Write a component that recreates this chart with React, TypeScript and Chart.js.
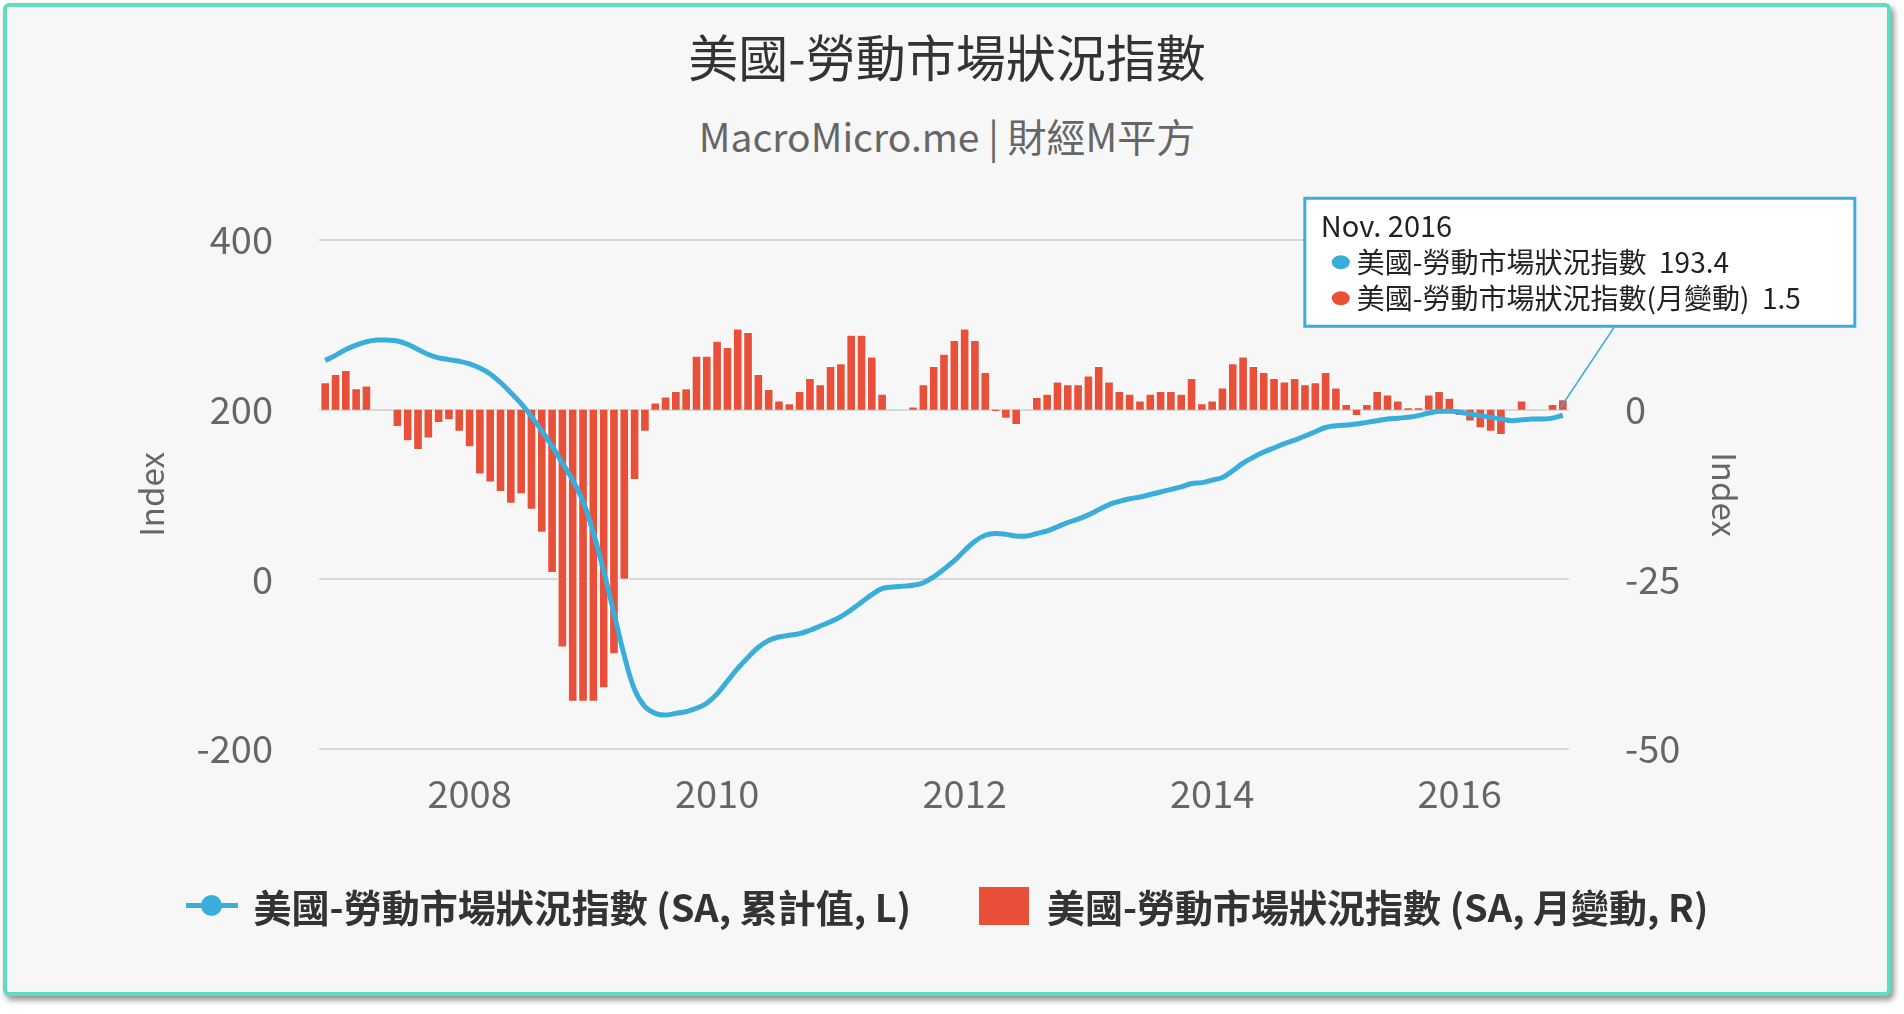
import React, { useEffect, useRef } from "react";
import { Chart, registerables } from "chart.js";
Chart.register(...registerables);

const startYear = 2006;
const startMonth = 10; // Nov (0-based)
const tickYears = [2008, 2010, 2012, 2014, 2016];
const leftTicks = [-200, 0, 200, 400];
const rightTicks = [-50, -25, 0];

const cumValues = [
  258, 264, 271, 276, 280, 282, 282, 281, 277, 271, 265, 261,
  259, 257, 254, 249, 242, 232, 220, 207, 192, 175, 157, 137,
  117, 92, 55, 10, -40, -90, -130, -150, -158, -160, -158, -156,
  -152, -146, -135, -120, -105, -92, -80, -72, -68, -66, -64, -60,
  -55, -50, -44, -36, -27, -18, -11, -9, -8, -7, -4, 3,
  12, 22, 34, 45, 52, 54, 53, 51, 51, 54, 57, 62,
  67, 71, 76, 82, 88, 92, 95, 97, 100, 103, 106, 109,
  113, 114, 117, 120, 128, 137, 144, 150, 155, 160, 164, 169,
  174, 179, 181, 182, 183, 185, 187, 189, 190, 191, 193, 196,
  198, 198, 197, 195, 193, 191, 189, 187, 188, 189, 189, 190,
  193.4,
];

const monthly = [
  4.0, 5.2, 5.8, 3.1, 3.5, 0, 0,
  -2.5, -4.6, -5.9, -4.2, -1.9, -1.5, -3.2, -5.5, -9.5, -10.7, -12.1, -13.8, -12.4,
  -14.7, -18.1, -24, -35, -43, -43, -43, -41, -36, -25, -10.3, -3.2,
  1.0, 1.9, 2.7, 3.1, 7.9, 7.9, 10.1, 9.2, 11.9, 11.4, 5.2, 3.0, 1.3, 0.9,
  2.7, 4.6, 3.7, 6.4, 6.8, 11.0, 11.0, 7.8, 2.3, 0, 0,
  0.4, 3.7, 6.4, 8.2, 10.2, 11.9, 10.2, 5.5, -0.3, -1.3, -2.2, 0,
  1.8, 2.3, 4.1, 3.7, 3.7, 5.0, 6.4, 4.1, 2.7, 2.3, 1.3, 2.3, 2.7, 2.7, 2.3, 4.6,
  0.9, 1.3, 3.2, 6.8, 7.8, 6.4, 5.5, 4.6, 4.1, 4.6, 3.7, 4.0,
  5.5, 3.2, 0.8, -0.9, 0.8, 2.7, 2.2, 1.3, 0.3, 0.3, 2.2, 2.7, 1.7, -0.9, -1.7,
  -2.7, -3.2, -3.7, 0, 1.3, 0, 0, 0.8, 1.5,
];

const lineName = "美國-勞動市場狀況指數 (SA, 累計值, L)";
const barName = "美國-勞動市場狀況指數 (SA, 月變動, R)";
const tipTitle = "Nov. 2016";
const tipLine = "美國-勞動市場狀況指數";
const tipBar = "美國-勞動市場狀況指數(月變動)";

const FONT = "'Noto Sans CJK TC', 'Noto Sans', sans-serif";
const BLUE = "#3aaedb";
const RED = "#e8503a";

function idxOfYear(y: number) {
  return (y - startYear) * 12 - startMonth;
}

export default function App() {
  const ref = useRef<HTMLCanvasElement>(null);
  useEffect(() => {
    const n = cumValues.length;
    const lineData = cumValues.map((v, i) => ({ x: i, y: v }));
    const barData = monthly.map((v, i) => ({ x: i, y: v }));
    const tipPlugin = {
      id: "tip",
      afterDraw(chart: any) {
        const ctx = chart.ctx;
        const xs = chart.scales.x, ys = chart.scales.y;
        const px = xs.getPixelForValue(n - 1);
        const py = ys.getPixelForValue(cumValues[n - 1]);
        const bx = px - 258, by = py - 217, bw = 550, bh = 128;
        ctx.save();
        ctx.strokeStyle = BLUE;
        ctx.lineWidth = 1.5;
        ctx.beginPath();
        ctx.moveTo(px - 2, py - 8);
        ctx.lineTo(px + 52, by + bh);
        ctx.stroke();
        ctx.fillStyle = "#ffffff";
        ctx.fillRect(bx, by, bw, bh);
        ctx.lineWidth = 3;
        ctx.strokeRect(bx, by, bw, bh);
        ctx.fillStyle = "#222";
        ctx.font = `29px ${FONT}`;
        ctx.textBaseline = "middle";
        ctx.fillText(tipTitle, bx + 16, by + 28);
        ctx.font = `28px ${FONT}`;
        const rows: [string, string, string][] = [
          [BLUE, tipLine, "  193.4"],
          [RED, tipBar, "  1.5"],
        ];
        rows.forEach(([c, t, v], i) => {
          const yy = by + 64 + i * 36;
          ctx.fillStyle = c;
          ctx.beginPath();
          ctx.ellipse(bx + 36, yy, 9, 7, 0, 0, Math.PI * 2);
          ctx.fill();
          ctx.fillStyle = "#222";
          ctx.fillText(t + v, bx + 52, yy);
        });
        ctx.restore();
      },
    };
    const chart = new Chart(ref.current!, {
      type: "bar",
      data: {
        datasets: [
          {
            type: "line",
            label: lineName,
            data: lineData,
            yAxisID: "y",
            borderColor: BLUE,
            borderWidth: 5,
            pointRadius: 0,
            tension: 0.4,
            order: 0,
          } as any,
          {
            type: "bar",
            label: barName,
            data: barData,
            yAxisID: "y1",
            backgroundColor: RED,
            borderColor: "#ffffff",
            borderWidth: 1,
            barThickness: 9,
            order: 1,
          } as any,
        ],
      },
      plugins: [tipPlugin],
      options: {
        animation: false,
        responsive: false,
        layout: { padding: { top: 233, bottom: 183, left: 125, right: 143 } },
        plugins: { legend: { display: false }, tooltip: { enabled: false } },
        scales: {
          x: {
            type: "linear",
            offset: false,
            min: -0.6,
            max: 120.6,
            grid: { display: false },
            border: { display: false },
            afterBuildTicks: (s: any) => {
              s.ticks = tickYears.map((y) => ({ value: idxOfYear(y) }));
            },
            afterFit: (s: any) => { s.height = 60; },
            ticks: {
              font: { size: 38, family: FONT },
              color: "#666",
              padding: 14,
              maxRotation: 0,
              callback: (v: any) => String(startYear + Math.floor((Number(v) + startMonth) / 12)),
            },
          },
          y: {
            position: "left",
            min: -200,
            max: 400,
            afterBuildTicks: (s: any) => { s.ticks = leftTicks.map((v) => ({ value: v })); },
            afterFit: (s: any) => { s.width = 187; },
            grid: { color: "#d8d8d8", lineWidth: 2, drawTicks: false },
            border: { display: false },
            title: { display: true, text: "Index", color: "#666", font: { size: 33, family: FONT }, padding: 0 },
            ticks: { font: { size: 38, family: FONT }, color: "#666", padding: 46 },
          },
          y1: {
            position: "right",
            min: -50,
            max: 25,
            afterBuildTicks: (s: any) => { s.ticks = rightTicks.map((v) => ({ value: v })); },
            afterFit: (s: any) => { s.width = 175; },
            grid: { display: false },
            border: { display: false },
            title: { display: true, text: "Index", color: "#666", font: { size: 33, family: FONT }, padding: 0 },
            ticks: { font: { size: 38, family: FONT }, color: "#666", padding: 48 },
          },
        },
      } as any,
    });
    return () => chart.destroy();
  }, []);

  return (
    <div
      style={{
        position: "absolute",
        left: 3,
        top: 3,
        width: 1880,
        height: 985,
        border: "4px solid #5fdcc3",
        borderRadius: 6,
        background: "#f7f7f7",
        boxShadow: "3px 4px 6px rgba(0,0,0,0.45)",
        fontFamily: FONT,
        overflow: "hidden",
      }}
    >
      <div style={{ position: "absolute", top: 12, width: "100%", textAlign: "center", fontSize: 50, color: "#333" }}>
        美國-勞動市場狀況指數
      </div>
      <div style={{ position: "absolute", top: 100, width: "100%", textAlign: "center", fontSize: 39, color: "#666" }}>
        MacroMicro.me | 財經M平方
      </div>
      <canvas ref={ref} width={1880} height={985} style={{ position: "absolute", left: 0, top: 0 }} />
      <div
        style={{
          position: "absolute",
          top: 871,
          left: 0,
          width: "100%",
          display: "flex",
          justifyContent: "center",
          alignItems: "center",
          fontSize: 38,
          fontWeight: "bold",
          color: "#333",
        }}
      >
        <span style={{ position: "relative", width: 52, height: 21, marginRight: 16 }}>
          <span style={{ position: "absolute", left: 0, top: 8, width: 52, height: 5, background: BLUE }} />
          <span style={{ position: "absolute", left: 15, top: 0, width: 21, height: 21, borderRadius: "50%", background: BLUE }} />
        </span>
        <span>{lineName}</span>
        <span style={{ display: "inline-block", width: 50, height: 38, background: RED, marginLeft: 68, marginRight: 18 }} />
        <span>{barName}</span>
      </div>
    </div>
  );
}
